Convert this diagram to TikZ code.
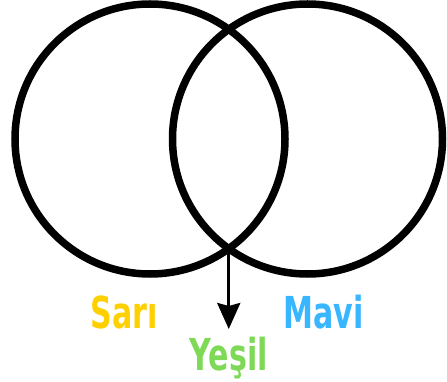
\documentclass[tikz,border=0pt]{standalone}
\usepackage{fontspec}
\usepackage{xcolor}
\newfontfamily\labelfont{DejaVu Sans Condensed}
\definecolor{sariyellow}{HTML}{FFD000}
\definecolor{maviblue}{HTML}{38B6FF}
\definecolor{yesilgreen}{HTML}{7ED957}
\usetikzlibrary{arrows.meta}

\begin{document}
\begin{tikzpicture}[x=1pt, y=-1pt,
  ring/.style={circle, draw=black, line width=7.5pt, minimum size=270pt, inner sep=0pt},
  lbl/.style={anchor=base, inner sep=0pt,
    font=\labelfont\bfseries\fontsize{44}{44}\selectfont},
  flow/.style={line width=3pt, -{Stealth[length=26pt, width=23pt, inset=3pt]}}
]
\useasboundingbox (0,0) rectangle (447,382);
\node[ring] (sari) at (150,139) {};
\node[ring] (mavi) at (307.5,139) {};
\coordinate (meet) at (228.75,248.6);
\coordinate (tip) at (228.75,329);
\draw[flow] (meet) -- (tip);
\node[lbl, text=sariyellow] (lsari) at (124,328) {\scalebox{0.76}[1]{Sarı}};
\node[lbl, text=maviblue] (lmavi) at (323.5,328) {\scalebox{0.76}[1]{Mavi}};
\node[lbl, text=yesilgreen] (lyesil) at (228.8,370) {\scalebox{0.76}[1]{Yeşil}};
\end{tikzpicture}
\end{document}
